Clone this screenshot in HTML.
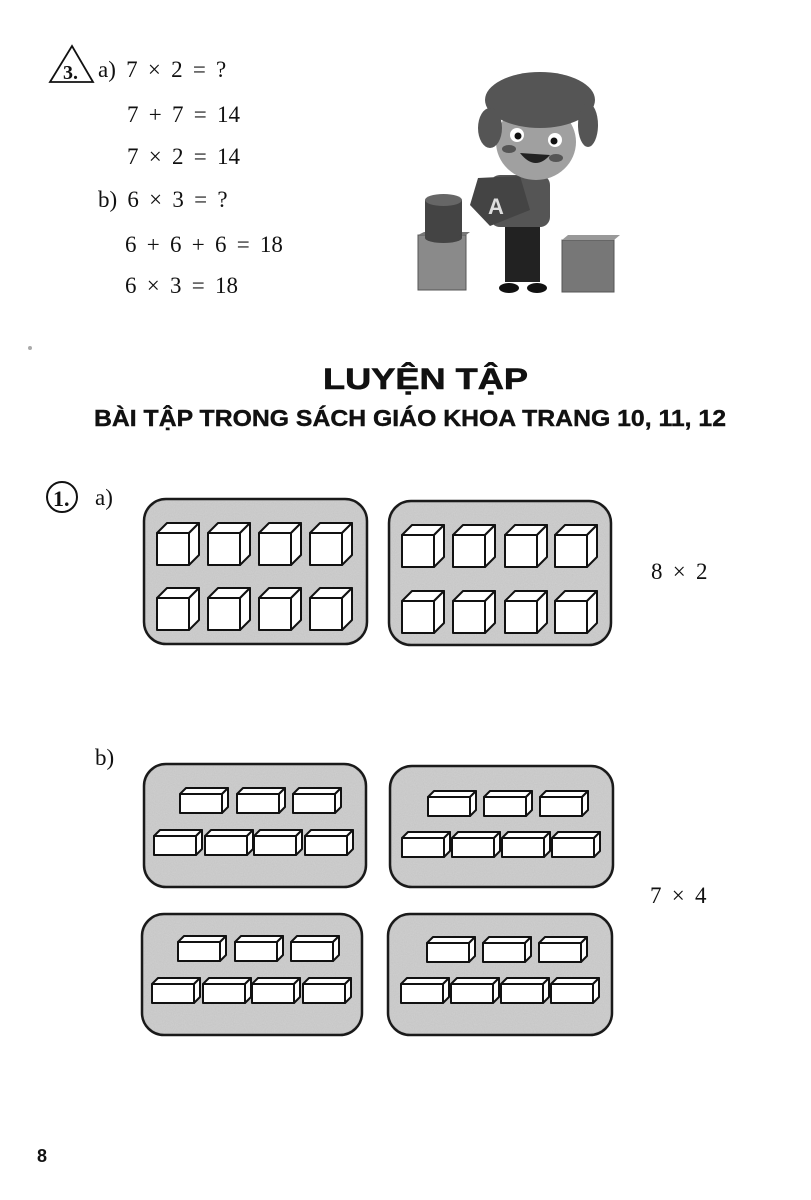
<!DOCTYPE html>
<html><head><meta charset="utf-8"><style>
html,body{margin:0;padding:0;background:#fff;}
svg{display:block}
.s{font-family:"Liberation Serif",serif;font-size:23px;fill:#111;word-spacing:4.5px}
</style></head><body>
<svg width="811" height="1200" viewBox="0 0 811 1200" xmlns="http://www.w3.org/2000/svg">
<defs>
<filter id="n"><feTurbulence type="fractalNoise" baseFrequency="0.9" numOctaves="2" seed="3"/><feColorMatrix values="0 0 0 0 0.7 0 0 0 0 0.7 0 0 0 0 0.7 0 0 0 0.55 0"/><feComposite in2="SourceGraphic" operator="in"/></filter>
<g id="cube" fill="#fff" stroke="#111" stroke-width="2" stroke-linejoin="round">
<polygon points="0,0 10,-10 42,-10 32,0"/><polygon points="32,0 42,-10 42,22 32,32"/><rect x="0" y="0" width="32" height="32"/>
</g>
<g id="brick" fill="#fff" stroke="#111" stroke-width="2" stroke-linejoin="round">
<polygon points="0,0 6,-6 48,-6 42,0"/><polygon points="42,0 48,-6 48,13 42,19"/><rect x="0" y="0" width="42" height="19"/>
</g>
<g id="bset">
<use href="#brick" x="180" y="794"/><use href="#brick" x="237" y="794"/><use href="#brick" x="293" y="794"/>
<use href="#brick" x="154" y="836"/><use href="#brick" x="205" y="836"/><use href="#brick" x="254" y="836"/><use href="#brick" x="305" y="836"/>
</g>
<g id="bset2">
<use href="#brick" x="428" y="797"/><use href="#brick" x="484" y="797"/><use href="#brick" x="540" y="797"/>
<use href="#brick" x="402" y="838"/><use href="#brick" x="452" y="838"/><use href="#brick" x="502" y="838"/><use href="#brick" x="552" y="838"/>
</g>
</defs>

<polygon points="50,82 72,46 93,82" fill="none" stroke="#111" stroke-width="1.8"/>
<text x="63" y="79" font-family="Liberation Serif,serif" font-weight="bold" font-size="20" fill="#111">3.</text>
<text class="s" x="98" y="77">a) 7 × 2 = ?</text>
<text class="s" x="127" y="122">7 + 7 = 14</text>
<text class="s" x="127" y="164">7 × 2 = 14</text>
<text class="s" x="98" y="207">b) 6 × 3 = ?</text>
<text class="s" x="125" y="252">6 + 6 + 6 = 18</text>
<text class="s" x="125" y="293">6 × 3 = 18</text>

<g>
<rect x="418" y="235" width="48" height="55" fill="#8a8a8a" stroke="#555"/>
<polygon points="418,235 466,235 470,232 424,232" fill="#777"/>
<rect x="425" y="200" width="37" height="38" fill="#444"/>
<ellipse cx="443.5" cy="200" rx="18.5" ry="6" fill="#666"/>
<ellipse cx="443.5" cy="238" rx="18.5" ry="5" fill="#444"/>
<rect x="562" y="240" width="52" height="52" fill="#777" stroke="#555"/>
<polygon points="562,240 614,240 620,235 568,235" fill="#999"/>
<rect x="505" y="222" width="35" height="60" fill="#222"/>
<rect x="490" y="175" width="60" height="52" rx="10" fill="#555"/>
<ellipse cx="509" cy="288" rx="10" ry="5" fill="#111"/><ellipse cx="537" cy="288" rx="10" ry="5" fill="#111"/>
<polygon points="478,178 520,176 530,210 490,226 470,205" fill="#444"/>
<text x="488" y="214" font-family="Liberation Sans,sans-serif" font-weight="bold" font-size="22" fill="#ddd">A</text>
<ellipse cx="536" cy="142" rx="40" ry="38" fill="#a0a0a0"/>
<ellipse cx="540" cy="100" rx="55" ry="28" fill="#555"/>
<ellipse cx="490" cy="128" rx="12" ry="20" fill="#555"/><ellipse cx="588" cy="125" rx="10" ry="22" fill="#555"/>
<circle cx="517" cy="135" r="7" fill="#fff"/><circle cx="555" cy="140" r="7" fill="#fff"/>
<circle cx="518" cy="136" r="3.5" fill="#111"/><circle cx="554" cy="141" r="3.5" fill="#111"/>
<path d="M520 153 Q535 172 550 155 Z" fill="#222"/>
<ellipse cx="509" cy="149" rx="7" ry="4" fill="#555"/><ellipse cx="556" cy="158" rx="7" ry="4" fill="#555"/>
</g>
<circle cx="30" cy="348" r="2" fill="#aaa"/>

<text x="323" y="389" font-family="Liberation Sans,sans-serif" font-weight="bold" font-size="30" fill="#111" stroke="#111" stroke-width="0.6" textLength="205" lengthAdjust="spacingAndGlyphs">LUYỆN TẬP</text>
<text x="94" y="426" font-family="Liberation Sans,sans-serif" font-weight="bold" font-size="23" fill="#111" stroke="#111" stroke-width="0.4" textLength="632" lengthAdjust="spacingAndGlyphs">BÀI TẬP TRONG SÁCH GIÁO KHOA TRANG 10, 11, 12</text>

<circle cx="62" cy="497" r="15" fill="none" stroke="#111" stroke-width="2"/>
<text x="53" y="506" font-family="Liberation Serif,serif" font-weight="bold" font-size="22" fill="#111">1.</text>
<text class="s" x="95" y="505">a)</text>
<text class="s" x="95" y="765">b)</text>

<g fill="#c4c4c4" stroke="#1a1a1a" stroke-width="2.5">
<rect x="144" y="499" width="223" height="145" rx="22"/>
<rect x="389" y="501" width="222" height="144" rx="22"/>
<rect x="144" y="764" width="222" height="123" rx="22"/>
<rect x="390" y="766" width="223" height="121" rx="22"/>
<rect x="142" y="914" width="220" height="121" rx="22"/>
<rect x="388" y="914" width="224" height="121" rx="22"/>
</g>
<g filter="url(#n)">
<rect x="146" y="501" width="219" height="141" rx="20" fill="#000"/>
<rect x="391" y="503" width="218" height="140" rx="20" fill="#000"/>
<rect x="146" y="766" width="218" height="119" rx="20" fill="#000"/>
<rect x="392" y="768" width="219" height="117" rx="20" fill="#000"/>
<rect x="144" y="916" width="216" height="117" rx="20" fill="#000"/>
<rect x="390" y="916" width="220" height="117" rx="20" fill="#000"/>
</g>

<use href="#cube" x="157" y="533"/><use href="#cube" x="208" y="533"/><use href="#cube" x="259" y="533"/><use href="#cube" x="310" y="533"/>
<use href="#cube" x="157" y="598"/><use href="#cube" x="208" y="598"/><use href="#cube" x="259" y="598"/><use href="#cube" x="310" y="598"/>
<use href="#cube" x="402" y="535"/><use href="#cube" x="453" y="535"/><use href="#cube" x="505" y="535"/><use href="#cube" x="555" y="535"/>
<use href="#cube" x="402" y="601"/><use href="#cube" x="453" y="601"/><use href="#cube" x="505" y="601"/><use href="#cube" x="555" y="601"/>

<use href="#bset"/>
<use href="#bset2"/>
<use href="#bset" transform="translate(-2,148)"/>
<use href="#bset2" transform="translate(-1,146)"/>

<text class="s" x="651" y="579" font-size="22">8 × 2</text>
<text class="s" x="650" y="903" font-size="22">7 × 4</text>

<text x="37" y="1162" font-family="Liberation Sans,sans-serif" font-weight="bold" font-size="18" fill="#111">8</text>
</svg>
</body></html>
